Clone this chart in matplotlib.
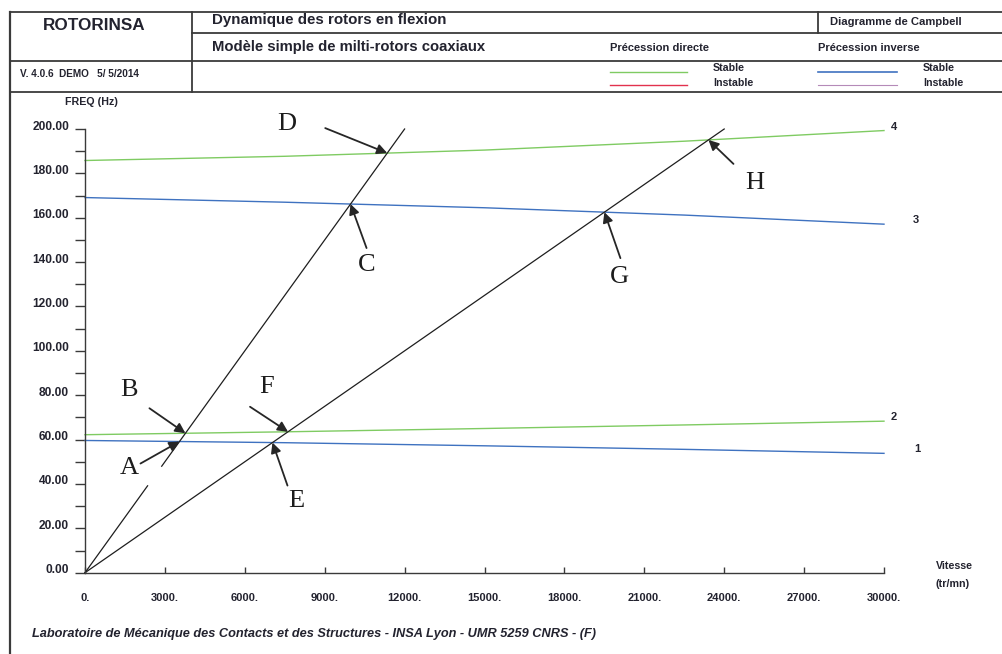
import numpy as np
import matplotlib
matplotlib.use("Agg")
import matplotlib.pyplot as plt
from matplotlib.lines import Line2D
from matplotlib.transforms import ScaledTranslation

# ---- data -----------------------------------------------------------------
# rotor speed samples (tr/mn) and natural frequencies of the four modes (Hz)
speed = [0, 7500, 15000, 22500, 30000]
mode1 = [59.6, 58.6, 57.2, 55.6, 53.8]        # précession inverse
mode2 = [62.2, 63.5, 65.0, 66.6, 68.3]        # précession directe
mode3 = [169.1, 167.0, 164.5, 161.2, 157.1]   # précession inverse
mode4 = [185.8, 187.7, 190.5, 194.5, 199.3]   # précession directe
mode_names = ["1", "2", "3", "4"]

# excitation lines  f = order * N / 60
order_1x = 1.0
order_half = 0.5
segments_1x = [(0, 2350), (2880, 12000)]
segments_half = [(0, 24000)]

# labelled crossings: (name, excitation order, mode index)
crossing_names = ["A", "B", "C", "D", "E", "F", "G", "H"]
crossing_orders = [1.0, 1.0, 1.0, 1.0, 0.5, 0.5, 0.5, 0.5]
crossing_modes = [0, 1, 2, 3, 0, 1, 2, 3]

x_ticks = list(range(0, 30001, 3000))
x_ticklabels = [f"{v}." for v in x_ticks]
y_ticks = list(range(0, 201, 20))
y_ticklabels = [f"{v:.2f}" for v in y_ticks]

# ---- style ------------------------------------------------------------------
W, H = 1003, 654
GREEN = "#7fcb62"
BLUE = "#3f72c0"
RED = "#e2324e"
PURPLE = "#b58ab8"
INK = "#23232f"
FRAME = "#3a3a3a"

plt.rcParams["font.family"] = ["Liberation Sans", "DejaVu Sans"]

fig = plt.figure(figsize=(W / 100, H / 100), dpi=100)
fig.patch.set_facecolor("white")


def fx(x):
    return x / W


def fy(y):
    return 1 - y / H


def hline(y, x0, x1, lw=1.3, color=FRAME):
    fig.add_artist(Line2D([fx(x0), fx(x1)], [fy(y), fy(y)],
                          transform=fig.transFigure, color=color, lw=lw))


def vline(x, y0, y1, lw=1.3, color=FRAME):
    fig.add_artist(Line2D([fx(x), fx(x)], [fy(y0), fy(y1)],
                          transform=fig.transFigure, color=color, lw=lw))


def ftext(x, y, s, size=8, ha="left", weight="bold", style="normal", color=INK):
    fig.text(fx(x), fy(y), s, ha=ha, va="center", fontsize=size,
             fontweight=weight, fontstyle=style, color=color)


# ---- header block -----------------------------------------------------------
hline(12, 10, W)
hline(33, 192, W)
hline(61, 10, W)
hline(92, 10, W)
vline(10, 12, H, lw=1.6)
vline(192, 12, 92)
vline(818, 12, 33)

ftext(94, 25, "ROTORINSA", size=12.3, ha="center")
ftext(212, 20, "Dynamique des rotors en flexion", size=10.9)
ftext(212, 47, "Modèle simple de milti-rotors coaxiaux", size=10.7)
ftext(20, 74, "V. 4.0.6  DEMO   5/ 5/2014", size=7.2)
ftext(830, 22, "Diagramme de Campbell", size=8.1)
ftext(610, 48, "Précession directe", size=8)
ftext(818, 48, "Précession inverse", size=8)

hline(72, 610, 687, lw=1.0, color=GREEN)
hline(85, 610, 687, lw=1.0, color=RED)
hline(72, 818, 897, lw=1.2, color=BLUE)
hline(85, 818, 897, lw=0.8, color=PURPLE)
ftext(713, 68, "Stable", size=7.7)
ftext(713, 83, "Instable", size=7.7)
ftext(923, 68, "Stable", size=7.7)
ftext(923, 83, "Instable", size=7.7)

ftext(91, 102, "FREQ (Hz)", size=7.7, ha="center")
ftext(936, 566, "Vitesse", size=7.7)
ftext(936, 584, "(tr/mn)", size=7.7)
ftext(32, 634, "Laboratoire de Mécanique des Contacts et des Structures - "
      "INSA Lyon - UMR 5259 CNRS - (F)", size=9.2, style="italic")

# ---- axes -------------------------------------------------------------------
x0_px, y0_px, x1_px, y1_px = 85, 572.7, 884, 129
ax = fig.add_axes([fx(x0_px), fy(y0_px), (x1_px - x0_px) / W,
                   (y0_px - y1_px) / H])
ax.set_xlim(0, 30000)
ax.set_ylim(0, 200)
for side in ("top", "right"):
    ax.spines[side].set_visible(False)
for side in ("left", "bottom"):
    ax.spines[side].set_color(FRAME)
    ax.spines[side].set_linewidth(1.0)

ax.set_xticks(x_ticks)
ax.set_xticklabels(x_ticklabels)
ax.set_yticks(y_ticks)
ax.set_yticklabels(y_ticklabels)
ax.set_yticks(range(10, 200, 20), minor=True)
ax.tick_params(axis="x", direction="in", length=4, width=1.0, color=FRAME,
               pad=14.5, labelsize=8, labelcolor=INK)
ax.tick_params(axis="y", which="both", direction="out", length=7.2, width=1.0,
               color=FRAME, pad=4.3, labelsize=8.6, labelcolor=INK)
for lab in ax.get_xticklabels() + ax.get_yticklabels():
    lab.set_fontweight("bold")
shift = ScaledTranslation(0, 4 / 100, fig.dpi_scale_trans)
for lab in ax.get_yticklabels():
    lab.set_transform(lab.get_transform() + shift)

# ---- modes ------------------------------------------------------------------
modes = [mode1, mode2, mode3, mode4]
mode_colors = [BLUE, GREEN, BLUE, GREEN]
label_dx = [33, 10, 32, 10]
for vals, col, name, dx in zip(modes, mode_colors, mode_names, label_dx):
    ax.plot(speed, vals, color=col, lw=1.0, clip_on=False)
    ax.annotate(name, xy=(speed[-1], vals[-1]), xytext=(dx, 4),
                textcoords="offset pixels", ha="center", va="center",
                fontsize=8, fontweight="bold", color=INK,
                annotation_clip=False)

# ---- excitation lines -------------------------------------------------------
for order, segs in ((order_1x, segments_1x), (order_half, segments_half)):
    for a, b in segs:
        n = np.array([a, b], dtype=float)
        ax.plot(n, order * n / 60.0, color="#1e1e1e", lw=0.9, clip_on=False)

# ---- crossings with arrows --------------------------------------------------
grid = np.linspace(0, 30000, 60001)
tail_offsets = [(-39, -22), (-36, 25), (16, -44), (-62, 25),
                (15, -43), (-38, 25), (16, -46), (25, -24)]
text_offsets = [(-50, -26), (-56, 43), (16, -61), (-101, 29),
                (24, -58), (-21, 45), (15, -65), (46, -43)]
for name, order, mi, toff, loff in zip(crossing_names, crossing_orders,
                                       crossing_modes, tail_offsets,
                                       text_offsets):
    fm = np.interp(grid, speed, modes[mi])
    k = np.argmin(np.abs(order * grid / 60.0 - fm))
    n_c, f_c = grid[k], fm[k]
    ax.annotate("", xy=(n_c, f_c), xytext=toff, textcoords="offset pixels",
                arrowprops=dict(arrowstyle="-|>", color="#262626", lw=1.3,
                                mutation_scale=15, shrinkA=0, shrinkB=0),
                annotation_clip=False)
    ax.annotate(name, xy=(n_c, f_c), xytext=loff, textcoords="offset pixels",
                ha="center", va="center", fontsize=19,
                fontfamily="Liberation Serif", color="#1c1c1c",
                annotation_clip=False)

fig.savefig("out.png", dpi=100, facecolor="white")
